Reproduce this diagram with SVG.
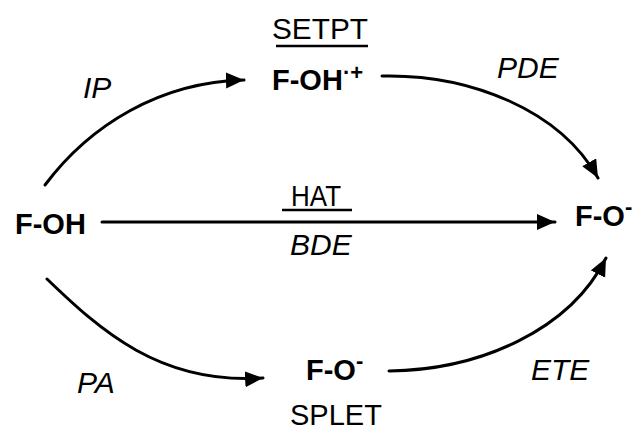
<svg xmlns="http://www.w3.org/2000/svg" width="633" height="430" viewBox="0 0 633 430">
<defs>
<marker id="ah" markerUnits="userSpaceOnUse" markerWidth="20" markerHeight="18" refX="18" refY="8" orient="auto">
<path d="M0,0 L18,8 L0,16 z" fill="#000"/>
</marker>
<style>
.sp{font-family:"Liberation Sans",Arial,sans-serif;font-weight:bold;font-size:29px;fill:#000}
.sup{font-size:22px;font-weight:bold}
.lab{font-family:"Liberation Sans",Arial,sans-serif;font-size:29px;fill:#000}
.it{font-family:"Liberation Sans",Arial,sans-serif;font-style:italic;font-size:30px;fill:#000}
.c{fill:none;stroke:#000;stroke-width:3;stroke-linecap:round;marker-end:url(#ah)}
.ul{stroke:#000;stroke-width:2.5}
</style>
</defs>
<g id="connectors">
<path class="c" d="M45,185 C90,125 160,82 244,80"/>
<path class="c" d="M382,76 C470,74 560,110 598,178"/>
<path class="c" d="M102,222 L555,222"/>
<path class="c" d="M47,279 C100,330 160,385 263,378"/>
<path class="c" d="M389,371 C480,370 570,330 606,258"/>
</g>
<g id="node-FOH">
<text class="sp" x="15" y="234">F-OH</text>
</g>
<g id="node-FOH-radical-cation">
<text class="sp" x="272" y="90">F-OH<tspan class="sup" dy="-10">·+</tspan></text>
</g>
<g id="node-FO-right">
<text class="sp" x="575" y="226">F-O<tspan class="sup" dy="-12">-</tspan></text>
</g>
<g id="node-FO-bottom">
<text class="sp" x="306" y="380">F-O<tspan class="sup" dy="-12">-</tspan></text>
</g>
<g id="labels">
<text class="lab" x="272" y="39" textLength="96" lengthAdjust="spacingAndGlyphs">SETPT</text>
<line class="ul" x1="276" y1="46" x2="368" y2="46"/>
<text class="lab" x="291" y="206" textLength="50" lengthAdjust="spacingAndGlyphs">HAT</text>
<line class="ul" x1="282" y1="210" x2="352" y2="210"/>
<text class="it" x="290" y="255">BDE</text>
<text class="it" x="83" y="98">IP</text>
<text class="it" x="497" y="78">PDE</text>
<text class="it" x="77" y="393">PA</text>
<text class="it" x="531" y="380">ETE</text>
<text class="lab" x="290" y="425">SPLET</text>
</g>
</svg>
